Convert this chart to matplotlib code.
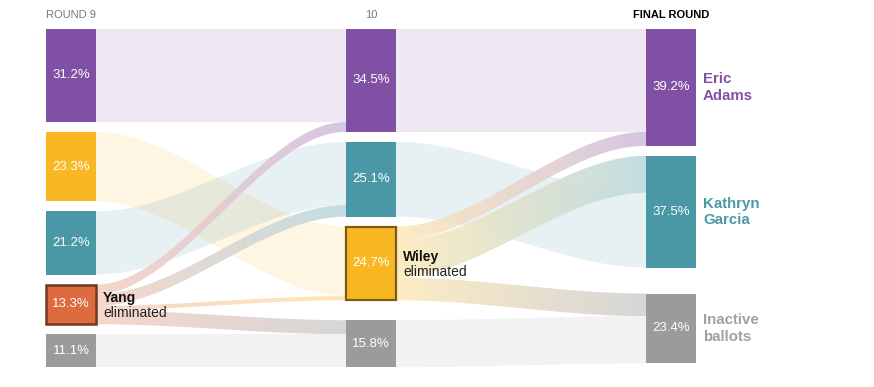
import numpy as np
import matplotlib.pyplot as plt
from matplotlib.patches import Rectangle, Polygon
from matplotlib.colors import to_rgb

plt.rcParams['font.family'] = ['Liberation Sans', 'DejaVu Sans']

# node order (top to bottom) and shares per round
round9_names = ["Adams", "Wiley", "Garcia", "Yang", "Inactive"]
round9_pct = [31.2, 23.3, 21.2, 13.3, 11.1]
round10_names = ["Adams", "Garcia", "Wiley", "Yang", "Inactive"]
round10_pct = [34.5, 25.1, 24.7, 0.0, 15.8]
final_names = ["Adams", "Garcia", "Wiley", "Yang", "Inactive"]
final_pct = [39.2, 37.5, 0.0, 0.0, 23.4]

# flows round 9 -> round 10 (Yang eliminated)
flow9_src = ["Adams", "Wiley", "Garcia", "Yang", "Yang", "Yang", "Yang", "Inactive"]
flow9_dst = ["Adams", "Wiley", "Garcia", "Adams", "Garcia", "Wiley", "Inactive", "Inactive"]
flow9_val = [31.2, 23.3, 21.2, 3.3, 3.9, 1.4, 4.7, 11.1]

# flows round 10 -> final (Wiley eliminated)
flow10_src = ["Adams", "Wiley", "Wiley", "Garcia", "Wiley", "Inactive"]
flow10_dst = ["Adams", "Adams", "Garcia", "Garcia", "Inactive", "Inactive"]
flow10_val = [34.5, 4.7, 12.4, 25.1, 7.6, 15.8]

round_titles = ["ROUND 9", "10", "FINAL ROUND"]
final_labels = ["Eric\nAdams", "Kathryn\nGarcia", "Inactive\nballots"]
final_label_keys = ["Adams", "Garcia", "Inactive"]

colors = {"Adams": "#8050a5", "Garcia": "#4a98a5", "Wiley": "#f9b823",
          "Yang": "#de6b40", "Inactive": "#9b9b9b"}
label_colors = {"Adams": "#8050a5", "Garcia": "#4a98a5", "Inactive": "#a0a0a0"}

PX = 1 / 2.98          # data units (percent) per pixel
GAP = 10 * PX
COL_X = [46, 346, 646]
COL_W = 50


def light(c, t):
    c = np.array(to_rgb(c))
    return 1 - t * (1 - c)


def layout(names, pcts, empty=1.0):
    tops = {}
    y = 0.0
    for n, p in zip(names, pcts):
        tops[n] = y
        y += p + (GAP if p > 0 else empty * GAP)
    return tops


def band_edges(xa, xb, ya0, ya1, yb0, yb1):
    xs = np.linspace(xa, xb, 80)
    t = (xs - xa) / (xb - xa)
    s = 3 * t ** 2 - 2 * t ** 3
    top = ya0 + (yb0 - ya0) * s
    bot = ya1 + (yb1 - ya1) * s
    return np.concatenate([np.column_stack([xs, top]),
                           np.column_stack([xs[::-1], bot[::-1]])])


def draw_flows(ax, xa, xb, tops_a, tops_b, src, dst, val):
    off_a = dict(tops_a)
    off_b = dict(tops_b)
    bands = []
    for s, d, v in zip(src, dst, val):
        bands.append((s, d, off_a[s], off_a[s] + v, off_b[d], off_b[d] + v))
        off_a[s] += v
        off_b[d] += v
    # stays first, transfers on top
    for s, d, a0, a1, b0, b1 in bands:
        if s == d:
            poly = Polygon(band_edges(xa, xb, a0, a1, b0, b1), closed=True,
                           facecolor=colors[s], alpha=0.13, edgecolor='none', zorder=1)
            ax.add_patch(poly)
    for s, d, a0, a1, b0, b1 in bands:
        if s != d:
            poly = Polygon(band_edges(xa, xb, a0, a1, b0, b1), closed=True,
                           facecolor='none', edgecolor='none')
            ax.add_patch(poly)
            c0 = light(colors[s], 0.3)
            c1 = light(colors[d], 0.36 if d != "Inactive" else 0.45)
            g = np.linspace(0, 1, 200)[:, None]
            rgb = (1 - g) * c0 + g * c1
            img = ax.imshow(rgb[None, :, :], extent=(xa, xb, max(a1, b1), min(a0, b0)),
                            aspect='auto', interpolation='bilinear', alpha=0.9, zorder=2)
            img.set_clip_path(poly)


def draw_nodes(ax, x, names, pcts, tops, edges):
    for n, p in zip(names, pcts):
        if p <= 0:
            continue
        ec, lw = edges.get(n, ('none', 0))
        ax.add_patch(Rectangle((x, tops[n]), COL_W, p, facecolor=colors[n],
                               edgecolor=ec, linewidth=lw, zorder=3))
        ax.text(x + COL_W / 2, tops[n] + p / 2, f"{p:.1f}%", color='white',
                fontsize=9.5, ha='center', va='center', zorder=4)


fig = plt.figure(figsize=(8.74, 3.87), dpi=100)
ax = fig.add_axes([0, 0, 1, 1])
ax.axis('off')

t9 = layout(round9_names, round9_pct)
t10 = layout(round10_names, round10_pct)
tf = layout(final_names, final_pct, empty=0.8)

draw_flows(ax, COL_X[0] + COL_W, COL_X[1], t9, t10, flow9_src, flow9_dst, flow9_val)
draw_flows(ax, COL_X[1] + COL_W, COL_X[2], t10, tf, flow10_src, flow10_dst, flow10_val)

draw_nodes(ax, COL_X[0], round9_names, round9_pct, t9, {"Yang": ("#6e3a1f", 1.8)})
draw_nodes(ax, COL_X[1], round10_names, round10_pct, t10, {"Wiley": ("#7a5c12", 1.6)})
draw_nodes(ax, COL_X[2], final_names, final_pct, tf, {})
ax.set_xlim(0, 874)
ax.set_ylim((387 - 29) * PX, -29 * PX)
ax.set_aspect('auto')

# round headers
head_y = -14 * PX
ax.text(COL_X[0], head_y, round_titles[0], fontsize=8, color='#777777', ha='left', va='center')
ax.text(COL_X[1] + COL_W / 2, head_y, round_titles[1], fontsize=8, color='#777777',
        ha='center', va='center')
ax.text(COL_X[2] + COL_W / 2, head_y, round_titles[2], fontsize=8, color='black',
        fontweight='bold', ha='center', va='center')

# eliminated labels
for x, name, pcts, names, tops in [(COL_X[0], "Yang", round9_pct, round9_names, t9),
                                   (COL_X[1], "Wiley", round10_pct, round10_names, t10)]:
    p = pcts[names.index(name)]
    cy = tops[name] + p / 2
    ax.text(x + COL_W + 7, cy - 2 * PX, name, fontsize=10, fontweight='bold',
            color='#111111', ha='left', va='baseline', zorder=5)
    ax.text(x + COL_W + 7, cy + 12.5 * PX, "eliminated", fontsize=10,
            color='#222222', ha='left', va='baseline', zorder=5)

# final round labels
for key, lab in zip(final_label_keys, final_labels):
    p = final_pct[final_names.index(key)]
    ax.text(COL_X[2] + COL_W + 7, tf[key] + p / 2, lab, fontsize=10.8, fontweight='bold',
            color=label_colors[key], ha='left', va='center', linespacing=1.2)

fig.savefig("out.png", dpi=100)
